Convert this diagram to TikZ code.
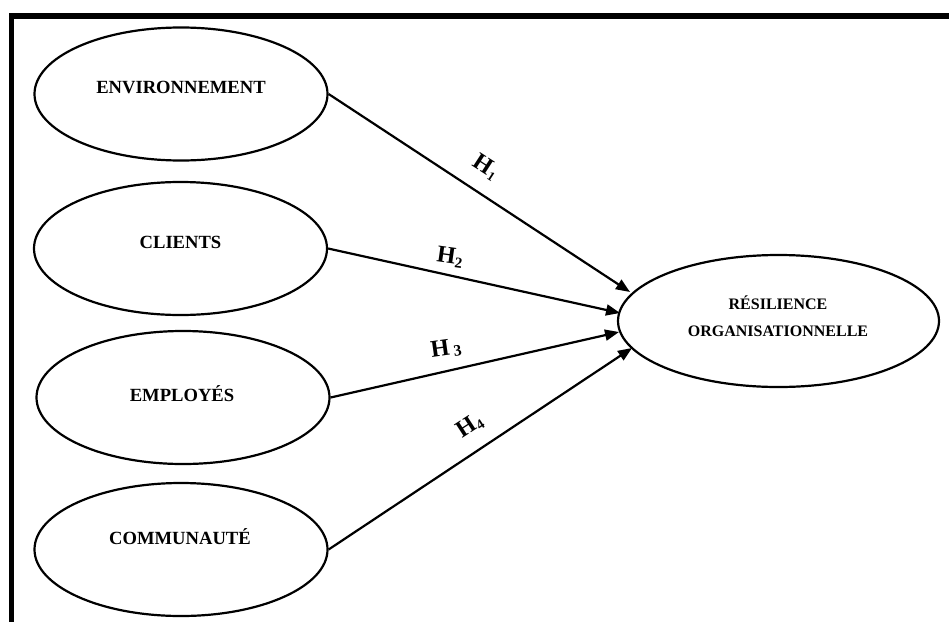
\documentclass[tikz,border=0pt]{standalone}
\usepackage{fontspec}
\setmainfont{Liberation Serif}
\usetikzlibrary{shapes.geometric,arrows.meta}
\begin{document}
\begin{tikzpicture}[x=1pt,y=-1pt,
  leftell/.style={ellipse,draw,line width=2.2pt,minimum width=293pt,minimum height=133pt,inner sep=0pt},
  rightell/.style={ellipse,draw,line width=2.2pt,minimum width=321pt,minimum height=132pt,inner sep=0pt},
  lbl/.style={font=\fontsize{18.6}{20}\selectfont\bfseries,inner sep=0pt},
  hyp/.style={font=\fontsize{24}{26}\selectfont\bfseries,inner sep=0pt},
  conn/.style={line width=2.2pt,-{Triangle[length=14pt,width=11pt]}},
  frameline/.style={line width=5.5pt,line join=miter}]
\useasboundingbox (0,0) rectangle (949,621);
\draw[frameline] (11.5,630) -- (11.5,16) -- (960,16);

\node[leftell] (e1) at (181,94) {};
\node[leftell] (e2) at (180.5,248.5) {};
\node[leftell] (e3) at (183,397.5) {};
\node[leftell] (e4) at (181,549.5) {};
\node[rightell] (r) at (778.5,321) {};

\node[lbl] (t1) at (181,87) {ENVIRONNEMENT};
\node[lbl] (t2) at (180.5,242) {CLIENTS};
\node[lbl] (t3) at (182,394) {EMPLOY\'ES};
\node[lbl] (t4) at (180,537) {COMMUNAUT\'E};
\node[align=center,font=\fontsize{16}{27}\selectfont\bfseries,inner sep=0pt] (tr) at (778,316) {R\'ESILIENCE\\ORGANISATIONNELLE};

\coordinate (p1) at (630,292);
\coordinate (p2) at (620,313);
\coordinate (p3) at (619,332);
\coordinate (p4) at (632,348);

\draw[conn] (e1.east) -- (p1);
\draw[conn] (e2.east) -- (p2);
\draw[conn] (e3.east) -- (p3);
\draw[conn] (e4.east) -- (p4);

\node[hyp,rotate=-33] (h1) at (486,167) {H\raisebox{-3pt}{\fontsize{13}{13}\selectfont 1}};
\node[hyp,rotate=-8] (h2) at (450,257) {H\raisebox{-3pt}{\fontsize{15}{15}\selectfont 2}};
\node[hyp,rotate=8] (h3) at (446,349) {H\,\raisebox{-2pt}{\fontsize{16}{16}\selectfont 3}};
\node[hyp,rotate=33] (h4) at (470,426) {H\raisebox{-3pt}{\fontsize{14}{14}\selectfont 4}};
\end{tikzpicture}
\end{document}
